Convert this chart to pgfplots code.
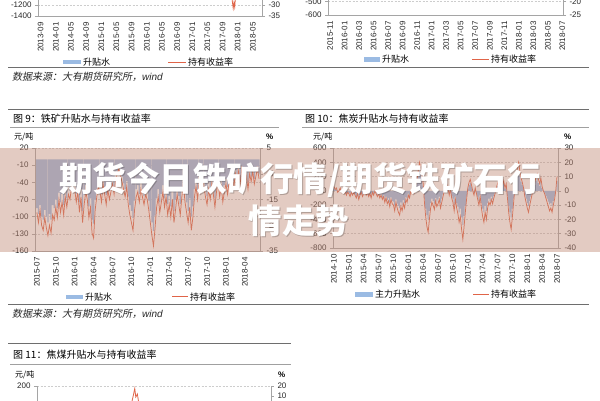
\documentclass[border=0pt]{standalone}
\usepackage{pgfplots}
\pgfplotsset{compat=1.18}
\usepackage{pgfplotstable}
\usepackage{fontspec}
\setmainfont{Liberation Sans}
\newfontfamily\cjk{Noto Sans CJK SC}
\newfontfamily\cjksl{Noto Sans CJK SC}[FakeSlant=0.2]

\definecolor{barblue}{RGB}{155,187,227}
\definecolor{linered}{RGB}{224,100,72}
\definecolor{axgray}{RGB}{165,165,165}
\definecolor{gridgray}{RGB}{205,205,205}
\definecolor{labgray}{RGB}{40,40,40}
\definecolor{rulegray}{RGB}{110,110,110}
\definecolor{rulelight}{RGB}{160,160,160}
\definecolor{bandcol}{RGB}{195,140,120}

% Fig 9: iron ore, weekly from 2015-07
\pgfplotstableread[row sep=\\]{
y\\
-20\\ -24\\ -19\\ -25\\ -27\\ -22\\ -26\\ -29\\ -25\\ -28\\ -21\\ -23\\
-18\\ -22\\ -15\\ -20\\ -16\\ -21\\ -14\\ -18\\ -13\\ -15\\ -10\\ -12\\
-11\\ -16\\ -12\\ -20\\ -14\\ -24\\ -17\\ -12\\ -15\\ -22\\ -18\\ -28\\
-30\\ -19\\ -14\\ -10\\ -12\\ -16\\ -9\\ -13\\ -17\\ -11\\ -15\\ -12\\
-9\\ -13\\ -7\\ -5\\ -3\\ -6\\ -8\\ -11\\ -14\\ -10\\ -17\\ -21\\
-24\\ -27\\ -19\\ -14\\ -12\\ -16\\ -11\\ -14\\ -17\\ -13\\ -15\\ -19\\
-24\\ -29\\ -33\\ -26\\ -18\\ -14\\ -20\\ -16\\ -12\\ -18\\ -14\\ -21\\
-17\\ -22\\ -15\\ -24\\ -19\\ -13\\ -17\\ -21\\ -14\\ -9\\ -16\\ -20\\
-24\\ -18\\ -27\\ -22\\ -14\\ -10\\ -15\\ -8\\ -12\\ -6\\ -10\\ -14\\
-17\\ -11\\ -15\\ -9\\ -13\\ -18\\ -12\\ -8\\ -14\\ -10\\ -16\\ -12\\
-9\\ -13\\ -8\\ -11\\ -6\\ -10\\ -5\\ -8\\ -4\\ -9\\ -3\\ -7\\
-10\\ -6\\ -11\\ -5\\ -8\\ -4\\ -9\\ -6\\ -3\\ -7\\
}\ironred
\pgfplotstableread[row sep=\\]{
y\\
-85\\ -95\\ -80\\ -100\\ -105\\ -88\\ -100\\ -110\\ -95\\ -105\\ -80\\ -85\\
-70\\ -85\\ -58\\ -75\\ -60\\ -80\\ -52\\ -68\\ -48\\ -55\\ -38\\ -45\\
-42\\ -60\\ -45\\ -75\\ -52\\ -90\\ -62\\ -45\\ -55\\ -82\\ -68\\ -105\\
-112\\ -70\\ -52\\ -38\\ -45\\ -60\\ -34\\ -48\\ -62\\ -40\\ -55\\ -45\\
-34\\ -48\\ -26\\ -20\\ -12\\ -22\\ -30\\ -42\\ -52\\ -38\\ -65\\ -80\\
-90\\ -102\\ -72\\ -52\\ -45\\ -60\\ -40\\ -52\\ -64\\ -48\\ -56\\ -72\\
-90\\ -110\\ -125\\ -98\\ -68\\ -52\\ -75\\ -60\\ -45\\ -68\\ -52\\ -78\\
-64\\ -82\\ -56\\ -90\\ -70\\ -48\\ -64\\ -78\\ -52\\ -34\\ -60\\ -75\\
-90\\ -68\\ -100\\ -82\\ -52\\ -38\\ -56\\ -30\\ -45\\ -22\\ -38\\ -52\\
-64\\ -40\\ -56\\ -34\\ -48\\ -68\\ -45\\ -30\\ -52\\ -38\\ -60\\ -45\\
-34\\ -48\\ -30\\ -40\\ -22\\ -38\\ -18\\ -30\\ -15\\ -34\\ -12\\ -26\\
-38\\ -22\\ -40\\ -18\\ -30\\ -15\\ -34\\ -22\\ -12\\ -26\\
}\ironbar

% Fig 10: coke, weekly from 2014-10
\pgfplotstableread[row sep=\\]{
y\\
3\\ 1\\ 2\\ -1\\ 0\\ 2\\ -1\\ 1\\ -2\\ 0\\ -3\\ -1\\
-2\\ -4\\ -1\\ -3\\ -1\\ -3\\ -5\\ -2\\ -6\\ -3\\ -1\\ -4\\
-2\\ 0\\ -3\\ -1\\ -4\\ -2\\ -5\\ -1\\ -3\\ 0\\ -2\\ -4\\
-2\\ -5\\ -3\\ -6\\ -4\\ -8\\ -5\\ -9\\ -7\\ -11\\ -6\\ -9\\
-10\\ -14\\ -8\\ -12\\ -15\\ -17\\ -11\\ -14\\ -9\\ -12\\ -6\\ -8\\
-3\\ -5\\ 0\\ -2\\ 2\\ -1\\ 5\\ 8\\ 14\\ 20\\ 16\\ 12\\
5\\ -8\\ -18\\ -25\\ -29\\ -20\\ -12\\ -8\\ -10\\ -13\\ -7\\ -11\\
-9\\ -6\\ -12\\ -8\\ -4\\ 0\\ 3\\ 5\\ 2\\ -3\\ 1\\ -5\\
-8\\ -14\\ -6\\ -12\\ -16\\ -22\\ -18\\ -27\\ -34\\ -25\\ -15\\ -6\\
2\\ 6\\ 8\\ 4\\ 0\\ -3\\ 2\\ -2\\ -6\\ -10\\ -4\\ -12\\
-18\\ -22\\ -15\\ -20\\ -12\\ -8\\ -10\\ -6\\ -9\\ -5\\ -2\\ 2\\
5\\ 8\\ 10\\ 6\\ 4\\ 7\\ 2\\ 5\\ -5\\ -15\\ -22\\ -27\\
-18\\ -8\\ 2\\ 10\\ 16\\ 20\\ 14\\ 9\\ 6\\ 2\\ -4\\ -8\\
-12\\ -15\\ -10\\ -6\\ -2\\ 3\\ 6\\ 10\\ 12\\ 8\\ 5\\ 9\\
3\\ 0\\ -2\\ -5\\ -8\\ -11\\ -14\\ -12\\ -15\\ -10\\ -6\\ 0\\
10\\
}\cokered
\pgfplotstableread[row sep=\\]{
y\\
40\\ 20\\ 30\\ -10\\ 0\\ 30\\ -10\\ 10\\ -30\\ 0\\ -40\\ -20\\
-30\\ -60\\ -20\\ -40\\ -20\\ -50\\ -70\\ -30\\ -90\\ -50\\ -20\\ -60\\
-30\\ 0\\ -40\\ -20\\ -60\\ -30\\ -70\\ -20\\ -40\\ 0\\ -30\\ -60\\
-30\\ -70\\ -40\\ -90\\ -60\\ -120\\ -80\\ -130\\ -100\\ -160\\ -90\\ -140\\
-150\\ -200\\ -120\\ -180\\ -210\\ -240\\ -160\\ -200\\ -130\\ -170\\ -90\\ -110\\
-40\\ -70\\ 0\\ -30\\ 30\\ -10\\ 70\\ 110\\ 200\\ 280\\ 230\\ 170\\
70\\ -110\\ -250\\ -340\\ -400\\ -280\\ -170\\ -110\\ -140\\ -180\\ -100\\ -150\\
-120\\ -80\\ -170\\ -110\\ -50\\ 0\\ 40\\ 70\\ 30\\ -40\\ 10\\ -70\\
-110\\ -200\\ -80\\ -170\\ -220\\ -300\\ -250\\ -370\\ -480\\ -350\\ -210\\ -80\\
30\\ 80\\ 110\\ 60\\ 0\\ -40\\ 30\\ -30\\ -80\\ -140\\ -60\\ -170\\
-250\\ -300\\ -210\\ -280\\ -170\\ -110\\ -140\\ -80\\ -120\\ -70\\ -30\\ 30\\
70\\ 110\\ 140\\ 80\\ 60\\ 100\\ 30\\ 70\\ -70\\ -210\\ -300\\ -370\\
-250\\ -110\\ 30\\ 140\\ 220\\ 280\\ 200\\ 130\\ 80\\ 30\\ -60\\ -110\\
-170\\ -210\\ -140\\ -80\\ -30\\ 40\\ 80\\ 140\\ 170\\ 110\\ 70\\ 130\\
40\\ 0\\ -30\\ -70\\ -110\\ -150\\ -190\\ -170\\ -210\\ -140\\ -80\\ 0\\
140\\
}\cokebar

\pgfplotsset{
  base/.style={scale only axis, anchor=south west,
    axis line style={draw=axgray, line width=0.6pt},
    tick style={draw=axgray, line width=0.5pt},
    tick align=outside, major tick length=3pt,
    ticklabel style={font=\fontsize{8}{9}\selectfont, text=labgray},
    /pgf/number format/assume math mode=true,
    /pgf/number format/1000 sep={}},
  leftax/.style={base, axis x line*=bottom, axis y line*=left,
    xtick style={draw=none},
    ymajorgrids, grid style={draw=gridgray, dash pattern=on 2pt off 1.5pt, line width=0.5pt},
    xticklabel style={rotate=90, anchor=east, font=\fontsize{8}{9}\selectfont}},
  rightax/.style={base, axis x line=none, axis y line*=right},
}

\begin{document}
\begin{tikzpicture}
\useasboundingbox (0,0) rectangle (600pt,-400pt);
\fill[white] (0,0) rectangle (600pt,-400pt);
\clip (0,0) rectangle (600pt,-400pt);

% ---------- top-left partial chart ----------
\begin{axis}[leftax, at={(38pt,-16pt)}, width=224pt, height=60.5pt,
  xmin=-0.7, xmax=58.4, ymin=-1400, ymax=-300, ytick={-1400,-1200},
  extra y ticks={-1000,-800,-600,-400}, extra y tick labels={},
  xtick={0,4,...,56},
  xticklabels={2013-09,2014-01,2014-05,2014-09,2015-01,2015-05,2015-09,2016-01,2016-05,2016-09,2017-01,2017-05,2017-09,2018-01,2018-05}]
\addplot[draw=none] coordinates {(0,-1400)};
\end{axis}
\begin{axis}[rightax, at={(38pt,-16pt)}, width=224pt, height=60.5pt,
  xmin=-0.7, xmax=58.4, ymin=-35, ymax=-7.5, ytick={-35,-30},
  extra y ticks={-25,-20,-15,-10}, extra y tick labels={}]
\addplot[linered, line width=0.8pt] coordinates {(49.8,-20) (50.4,-26) (50.8,-31.5) (51.0,-29) (51.2,-31) (51.5,-24) (52,-18)};
\end{axis}
\fill[barblue] (63pt,-59.5pt) rectangle (81pt,-64pt);
\node[anchor=west, inner sep=0pt, font=\cjk\fontsize{9}{10}\selectfont] at (83pt,-62pt) {升贴水};
\draw[linered, line width=1pt] (168pt,-62pt) -- (186pt,-62pt);
\node[anchor=west, inner sep=0pt, font=\cjk\fontsize{9}{10}\selectfont] at (188pt,-62pt) {持有收益率};

% ---------- top-right partial chart ----------
\begin{axis}[leftax, at={(328pt,-15pt)}, width=235pt, height=40.5pt,
  xmin=-0.3, xmax=32.1, ymin=-600, ymax=-300, ytick={-600,-500},
  extra y ticks={-400,-300}, extra y tick labels={},
  xtick={0,2,...,32},
  xticklabels={2015-11,2016-01,2016-03,2016-05,2016-07,2016-09,2016-11,2017-01,2017-03,2017-05,2017-07,2017-09,2017-11,2018-01,2018-03,2018-05,2018-07}]
\addplot[draw=none] coordinates {(0,-600)};
\end{axis}
\begin{axis}[rightax, at={(328pt,-15pt)}, width=235pt, height=40.5pt,
  xmin=-0.3, xmax=32.1, ymin=-25, ymax=-10, ytick={-25,-20},
  extra y ticks={-15,-10}, extra y tick labels={}]
\addplot[draw=none] coordinates {(0,-25)};
\end{axis}
\fill[barblue] (364pt,-57pt) rectangle (380pt,-61.5pt);
\node[anchor=west, inner sep=0pt, font=\cjk\fontsize{9}{10}\selectfont] at (382pt,-59.3pt) {升贴水};
\draw[linered, line width=1pt] (472pt,-59.3pt) -- (489pt,-59.3pt);
\node[anchor=west, inner sep=0pt, font=\cjk\fontsize{9}{10}\selectfont] at (491pt,-59.3pt) {持有收益率};

% rules and source
\draw[rulegray, line width=0.8pt] (8pt,-67pt) -- (589pt,-67pt);
\node[anchor=west, inner sep=0pt, text=labgray] at (12pt,-76.5pt) {\cjksl\fontsize{10}{11}\selectfont 数据来源：大有期货研究所，\rmfamily\itshape wind};

% ---------- Fig 9 ----------
\draw[rulegray, line width=0.8pt] (8pt,-109pt) -- (589pt,-109pt);
\draw[rulelight, line width=0.6pt] (10pt,-127pt) -- (279pt,-127pt);
\draw[rulelight, line width=0.6pt] (302pt,-127pt) -- (589pt,-127pt);
\node[anchor=west, inner sep=0pt, font=\cjk\fontsize{10}{11}\selectfont] at (13pt,-118.5pt) {图 9：铁矿升贴水与持有收益率};
\node[anchor=west, inner sep=0pt, font=\cjk\fontsize{8}{9}\selectfont] at (14pt,-136.5pt) {元/吨};
\node[anchor=west, inner sep=0pt, font=\fontsize{8}{9}\selectfont\bfseries] at (266pt,-136.5pt) {\%};
\begin{axis}[leftax, at={(35pt,-251pt)}, width=225pt, height=103pt,
  xmin=-0.3, xmax=35.4, ymin=-160, ymax=20, ytick={-160,-130,...,20},
  xtick={0,3,...,33},
  xticklabels={2015-07,2015-10,2016-01,2016-04,2016-07,2016-10,2017-01,2017-04,2017-07,2017-10,2018-01,2018-04}]
\addplot[ybar, bar width=1.3pt, fill=barblue, draw=none] table[x expr=\coordindex/4, y=y] {\ironbar};
\end{axis}
\begin{axis}[rightax, at={(35pt,-251pt)}, width=225pt, height=103pt,
  xmin=-0.3, xmax=35.4, ymin=-35, ymax=5, ytick={-35,-25,...,5}]
\addplot[linered, line width=0.75pt] table[x expr=\coordindex/4, y=y] {\ironred};
\end{axis}
\fill[barblue] (66pt,-294.5pt) rectangle (83pt,-299pt);
\node[anchor=west, inner sep=0pt, font=\cjk\fontsize{9}{10}\selectfont] at (85pt,-296.7pt) {升贴水};
\draw[linered, line width=1pt] (172pt,-296.7pt) -- (188pt,-296.7pt);
\node[anchor=west, inner sep=0pt, font=\cjk\fontsize{9}{10}\selectfont] at (190pt,-296.7pt) {持有收益率};

% ---------- Fig 10 ----------
\node[anchor=west, inner sep=0pt, font=\cjk\fontsize{10}{11}\selectfont] at (305pt,-118.5pt) {图 10：焦炭升贴水与持有收益率};
\node[anchor=west, inner sep=0pt, font=\cjk\fontsize{8}{9}\selectfont] at (313pt,-137pt) {元/吨};
\node[anchor=west, inner sep=0pt, font=\fontsize{8}{9}\selectfont\bfseries] at (564pt,-137pt) {\%};
\begin{axis}[leftax, at={(333pt,-248pt)}, width=225pt, height=100pt,
  xmin=-0.2, xmax=45.2, ymin=-800, ymax=600, ytick={-800,-600,...,600},
  xtick={0,3,...,45},
  xticklabels={2014-10,2015-01,2015-04,2015-07,2015-10,2016-01,2016-04,2016-07,2016-10,2017-01,2017-04,2017-07,2017-10,2018-01,2018-04,2018-07}]
\addplot[ybar, bar width=1pt, fill=barblue, draw=none] table[x expr=\coordindex/4, y=y] {\cokebar};
\end{axis}
\begin{axis}[rightax, at={(333pt,-248pt)}, width=225pt, height=100pt,
  xmin=-0.2, xmax=45.2, ymin=-40, ymax=30, ytick={-40,-30,...,30}]
\addplot[linered, line width=0.75pt] table[x expr=\coordindex/4, y=y] {\cokered};
\end{axis}
\fill[barblue] (355pt,-292pt) rectangle (373pt,-296.5pt);
\node[anchor=west, inner sep=0pt, font=\cjk\fontsize{9}{10}\selectfont] at (375pt,-294.3pt) {主力升贴水};
\draw[linered, line width=1pt] (473pt,-294.3pt) -- (489pt,-294.3pt);
\node[anchor=west, inner sep=0pt, font=\cjk\fontsize{9}{10}\selectfont] at (491pt,-294.3pt) {持有收益率};

\draw[rulegray, line width=0.8pt] (8pt,-304pt) -- (589pt,-304pt);
\node[anchor=west, inner sep=0pt, text=labgray] at (12pt,-313.5pt) {\cjksl\fontsize{10}{11}\selectfont 数据来源：大有期货研究所，\rmfamily\itshape wind};

% ---------- Fig 11 (partial) ----------
\draw[rulegray, line width=0.8pt] (8pt,-343.5pt) -- (291pt,-343.5pt);
\draw[rulelight, line width=0.6pt] (10pt,-364pt) -- (291pt,-364pt);
\node[anchor=west, inner sep=0pt, font=\cjk\fontsize{10}{11}\selectfont] at (13pt,-354.5pt) {图 11：焦煤升贴水与持有收益率};
\node[anchor=west, inner sep=0pt, font=\cjk\fontsize{8}{9}\selectfont] at (15pt,-375pt) {元/吨};
\node[anchor=west, inner sep=0pt, font=\fontsize{8}{9}\selectfont\bfseries] at (278pt,-375pt) {\%};
\begin{axis}[leftax, at={(37pt,-482pt)}, width=234pt, height=96pt,
  xmin=0, xmax=45, ymin=-600, ymax=200, ytick={200},
  extra y ticks={0,-200,-400}, extra y tick labels={}, xtick=\empty]
\addplot[draw=none] coordinates {(0,-600)};
\end{axis}
\begin{axis}[rightax, at={(37pt,-482pt)}, width=234pt, height=96pt,
  xmin=0, xmax=45, ymin=-76, ymax=20, ytick={20,10},
  extra y ticks={0,-10,-20}, extra y tick labels={}]
\addplot[linered, line width=0.8pt] coordinates {(17.6,-8) (18.1,1) (18.5,10) (18.8,17.5) (19.0,9) (19.3,12) (19.6,2) (20.1,-6)};
\end{axis}

% ---------- banner overlay ----------
\fill[bandcol, opacity=0.45] (0,-148pt) rectangle (600pt,-252pt);
\node[font=\cjk\bfseries\fontsize{33.5}{36}\selectfont, text=black, opacity=0.22] at (301pt,-181.5pt) {期货今日铁矿行情/期货铁矿石行};
\node[font=\cjk\bfseries\fontsize{33.5}{36}\selectfont, text=white] at (300pt,-180.5pt) {期货今日铁矿行情/期货铁矿石行};
\node[font=\cjk\bfseries\fontsize{33.5}{36}\selectfont, text=black, opacity=0.22] at (300pt,-222pt) {情走势};
\node[font=\cjk\bfseries\fontsize{33.5}{36}\selectfont, text=white] at (299pt,-221pt) {情走势};
\end{tikzpicture}
\end{document}
